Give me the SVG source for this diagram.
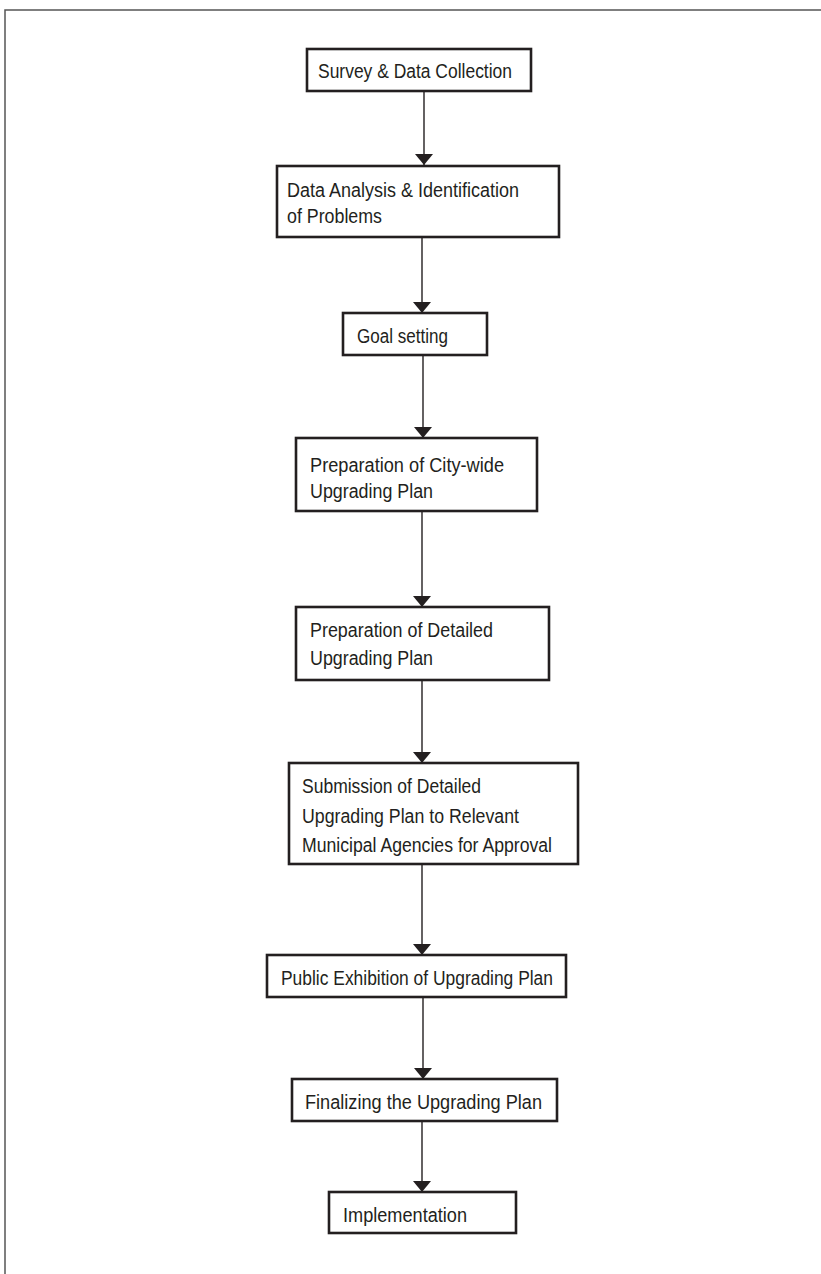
<svg xmlns="http://www.w3.org/2000/svg" width="821" height="1274" viewBox="0 0 821 1274">
<style>
.frame{fill:none;stroke:#555;stroke-width:1.5}
.box{fill:#fff;stroke:#231f20;stroke-width:2.6}
.lbl{font-family:"Liberation Sans",Arial,sans-serif;font-size:20px;fill:#231f20}
.conn{stroke:#231f20;stroke-width:1.4;fill:none}
</style>
<defs>
<marker id="ahd" viewBox="0 0 18 11" refX="9" refY="11" markerWidth="18" markerHeight="11" markerUnits="userSpaceOnUse" orient="0">
<path d="M0,0 L18,0 L9,11 Z" fill="#231f20"/>
</marker>
</defs>
<path class="frame" d="M5,1274 V10 H821"/>
<g id="connectors">
<line class="conn" x1="424" y1="91" x2="424" y2="165" marker-end="url(#ahd)"/>
<line class="conn" x1="422" y1="237" x2="422" y2="313" marker-end="url(#ahd)"/>
<line class="conn" x1="423" y1="355" x2="423" y2="438" marker-end="url(#ahd)"/>
<line class="conn" x1="422" y1="511" x2="422" y2="607" marker-end="url(#ahd)"/>
<line class="conn" x1="422" y1="680" x2="422" y2="763" marker-end="url(#ahd)"/>
<line class="conn" x1="422" y1="864" x2="422" y2="955" marker-end="url(#ahd)"/>
<line class="conn" x1="423" y1="997" x2="423" y2="1079" marker-end="url(#ahd)"/>
<line class="conn" x1="422" y1="1121" x2="422" y2="1192" marker-end="url(#ahd)"/>
</g>
<g id="n1">
<rect class="box" x="307" y="49" width="224" height="42"/>
<text class="lbl" x="318" y="78" textLength="194" lengthAdjust="spacingAndGlyphs">Survey &amp; Data Collection</text>
</g>
<g id="n2">
<rect class="box" x="277" y="166" width="282" height="71"/>
<text class="lbl" x="287" y="197" textLength="232" lengthAdjust="spacingAndGlyphs">Data Analysis &amp; Identification</text>
<text class="lbl" x="287" y="223" textLength="95" lengthAdjust="spacingAndGlyphs">of Problems</text>
</g>
<g id="n3">
<rect class="box" x="343" y="313" width="144" height="42"/>
<text class="lbl" x="357" y="343" textLength="91" lengthAdjust="spacingAndGlyphs">Goal setting</text>
</g>
<g id="n4">
<rect class="box" x="296" y="438" width="241" height="73"/>
<text class="lbl" x="310" y="472" textLength="194" lengthAdjust="spacingAndGlyphs">Preparation of City-wide</text>
<text class="lbl" x="310" y="498" textLength="123" lengthAdjust="spacingAndGlyphs">Upgrading Plan</text>
</g>
<g id="n5">
<rect class="box" x="296" y="607" width="253" height="73"/>
<text class="lbl" x="310" y="637" textLength="183" lengthAdjust="spacingAndGlyphs">Preparation of Detailed</text>
<text class="lbl" x="310" y="665" textLength="123" lengthAdjust="spacingAndGlyphs">Upgrading Plan</text>
</g>
<g id="n6">
<rect class="box" x="289" y="763" width="289" height="101"/>
<text class="lbl" x="302" y="793" textLength="179" lengthAdjust="spacingAndGlyphs">Submission of Detailed</text>
<text class="lbl" x="302" y="823" textLength="217" lengthAdjust="spacingAndGlyphs">Upgrading Plan to Relevant</text>
<text class="lbl" x="302" y="852" textLength="250" lengthAdjust="spacingAndGlyphs">Municipal Agencies for Approval</text>
</g>
<g id="n7">
<rect class="box" x="267" y="955" width="299" height="42"/>
<text class="lbl" x="281" y="985" textLength="272" lengthAdjust="spacingAndGlyphs">Public Exhibition of Upgrading Plan</text>
</g>
<g id="n8">
<rect class="box" x="292" y="1079" width="265" height="42"/>
<text class="lbl" x="305" y="1109" textLength="237" lengthAdjust="spacingAndGlyphs">Finalizing the Upgrading Plan</text>
</g>
<g id="n9">
<rect class="box" x="329" y="1192" width="187" height="41"/>
<text class="lbl" x="343" y="1222" textLength="124" lengthAdjust="spacingAndGlyphs">Implementation</text>
</g>
</svg>
